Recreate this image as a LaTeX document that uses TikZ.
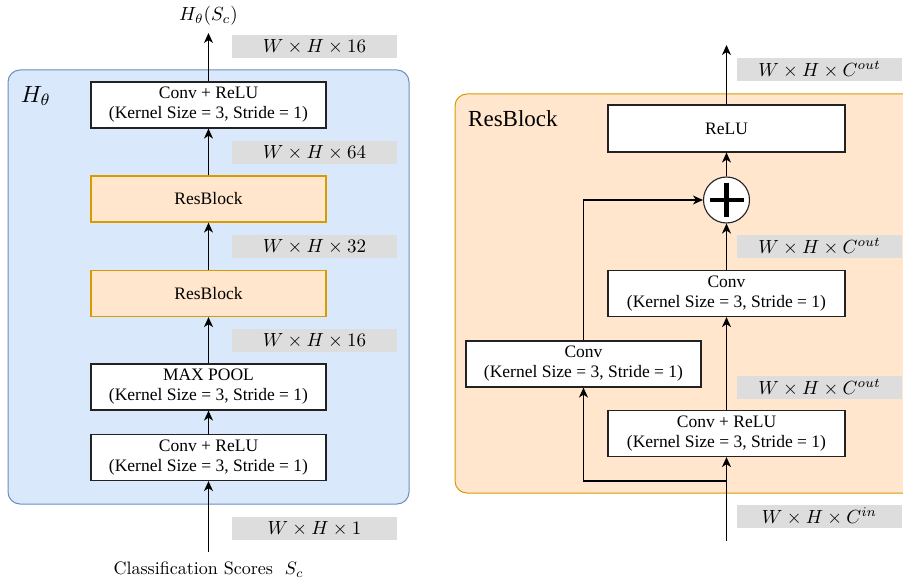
\documentclass[tikz,border=0pt]{standalone}
\usepackage{fontspec}
\usetikzlibrary{arrows.meta}
\newfontfamily\tms{Liberation Serif}
\definecolor{bluefill}{HTML}{DAE8FC}
\definecolor{bluedraw}{HTML}{6C8EBF}
\definecolor{orfill}{HTML}{FFE6CC}
\definecolor{ordraw}{HTML}{D79B00}
\definecolor{dimfill}{HTML}{DDDDDD}
\definecolor{edge}{HTML}{222222}
% math and Latin Modern text set at 10pt and scaled, keeping the 10pt design
\newcommand\bigmath[2]{\scalebox{#1}{\fontsize{10}{12}\selectfont$#2$}}
\newcommand\bigtext[2]{\scalebox{#1}{\fontsize{10}{12}\selectfont #2}}
\tikzset{
  panelL/.style={draw=bluedraw, fill=bluefill, line width=1pt, rounded corners=12pt},
  panelR/.style={draw=ordraw, fill=orfill, line width=1pt, rounded corners=12pt},
  layer/.style={draw=edge, fill=white, line width=1.2pt, minimum width=235, minimum height=46,
    align=center, inner sep=0pt, font=\tms\fontsize{17.5}{20}\selectfont},
  resbox/.style={layer, draw=ordraw, fill=orfill},
  dimlabel/.style={fill=dimfill, minimum width=165, minimum height=23, inner sep=0pt},
  flow/.style={line width=1.3pt, -{Stealth[length=10pt,width=9pt,inset=3pt]}},
  sumnode/.style={circle, draw=edge, fill=white, line width=1.1pt, minimum size=46, inner sep=0pt}
}
\begin{document}
\begin{tikzpicture}[x=1pt, y=-1pt]
\useasboundingbox (0,0) rectangle (903,580);

% ---------- H_theta network ----------
\draw[panelL] (8,70) rectangle (409,504);
\node[inner sep=0pt] (htitle) at (36,96) {\bigmath{2.35}{H_\theta}};

\node[layer] (c1) at (208.5,105) {Conv + ReLU\\(Kernel Size = 3, Stride = 1)};
\node[resbox] (rb1) at (208.5,199) {ResBlock};
\node[resbox] (rb2) at (208.5,293.5) {ResBlock};
\node[layer] (mp) at (208.5,387) {MAX POOL\\(Kernel Size = 3, Stride = 1)};
\node[layer] (c0) at (208.5,457.5) {Conv + ReLU\\(Kernel Size = 3, Stride = 1)};

\node[dimlabel] (d16a) at (314.5,46.5) {\bigmath{1.9}{W\times H\times 16}};
\node[dimlabel] (d64) at (314.5,152.5) {\bigmath{1.9}{W\times H\times 64}};
\node[dimlabel] (d32) at (314.5,246.5) {\bigmath{1.9}{W\times H\times 32}};
\node[dimlabel] (d16b) at (314.5,340.5) {\bigmath{1.9}{W\times H\times 16}};
\node[dimlabel] (d1) at (314.5,528.5) {\bigmath{1.9}{W\times H\times 1}};

\coordinate (hout) at (208.5,33);
\coordinate (hin) at (208.5,552);
\node[inner sep=0pt] (outlab) at (208.5,16) {\bigmath{1.9}{H_\theta(S_c)}};
\node[inner sep=0pt] (inlab) at (208.5,570) {\bigtext{1.8}{Classification Scores~ $S_c$}};

\draw[flow] (hin) -- (c0);
\draw[flow] (c0) -- (mp);
\draw[flow] (mp) -- (rb2);
\draw[flow] (rb2) -- (rb1);
\draw[flow] (rb1) -- (c1);
\draw[flow] (c1) -- (hout);

% ---------- ResBlock detail ----------
\draw[panelR] (455,94) rectangle (925,493);
\node[font=\tms\fontsize{23}{25}\selectfont, anchor=west, inner sep=0pt] (rtitle) at (468,119) {ResBlock};

\node[layer, minimum width=237, minimum height=47] (relu) at (726.5,128.5) {ReLU};
\node[sumnode] (sum) at (726.5,200) {};
\draw[line width=4.8pt, black] (sum.center) ++(-17,0) -- ++(34,0);
\draw[line width=4.8pt, black] (sum.center) ++(0,-17) -- ++(0,34);
\node[layer, minimum width=237] (convr) at (726.5,293.5) {Conv\\(Kernel Size = 3, Stride = 1)};
\node[layer] (convl) at (583.5,364) {Conv\\(Kernel Size = 3, Stride = 1)};
\node[layer, minimum width=237] (convrelu) at (726.5,433.5) {Conv + ReLU\\(Kernel Size = 3, Stride = 1)};

\node[dimlabel] (dout1) at (819.5,69.5) {\bigmath{1.9}{W\times H\times C^{out}}};
\node[dimlabel] (dout2) at (819.5,246.5) {\bigmath{1.9}{W\times H\times C^{out}}};
\node[dimlabel] (dout3) at (819.5,387.5) {\bigmath{1.9}{W\times H\times C^{out}}};
\node[dimlabel] (din) at (819.5,516.5) {\bigmath{1.9}{W\times H\times C^{in}}};

\coordinate (rout) at (726.5,45);
\coordinate (rin) at (726.5,541);
\coordinate (split) at (726.5,481);

\draw[flow] (rin) -- (convrelu);
\draw[flow] (split) -| (convl.south);
\draw[flow] (convrelu) -- (convr);
\draw[flow] (convr) -- (sum);
\draw[flow] (convl.north) |- (sum.west);
\draw[flow] (sum) -- (relu);
\draw[flow] (relu) -- (rout);
\end{tikzpicture}
\end{document}
